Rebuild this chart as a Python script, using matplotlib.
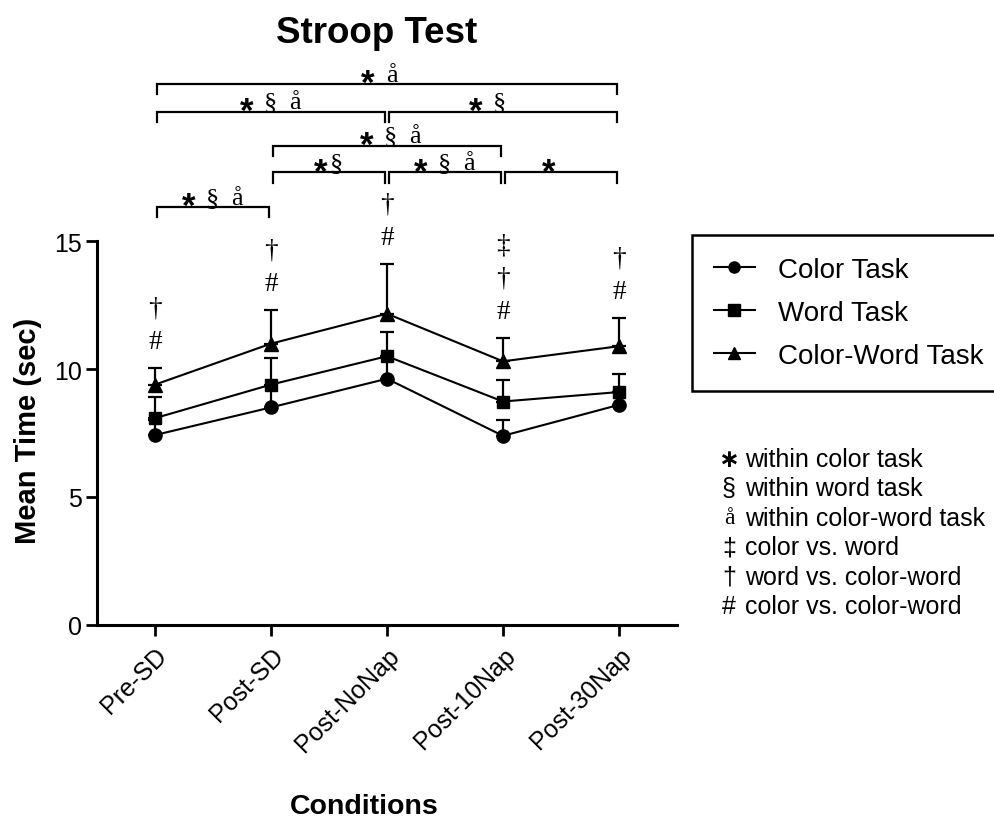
import matplotlib
matplotlib.use('Agg')
import matplotlib.pyplot as plt
import numpy as np

plt.rcParams['font.family'] = ['Liberation Sans', 'DejaVu Sans']

# ---------------- data ----------------
conditions = ['Pre-SD', 'Post-SD', 'Post-NoNap', 'Post-10Nap', 'Post-30Nap']
series_labels = ['Color Task', 'Word Task', 'Color-Word Task']
color_mean = [7.42, 8.50, 9.62, 7.39, 8.60]
color_sem = [0.60, 0.85, 0.85, 0.60, 0.50]
word_mean = [8.08, 9.39, 10.50, 8.73, 9.10]
word_sem = [0.82, 1.04, 0.94, 0.83, 0.72]
cw_mean = [9.39, 10.99, 12.16, 10.30, 10.89]
cw_sem = [0.66, 1.31, 1.96, 0.92, 1.10]

# between-task significance marks per condition (bottom to top)
point_marks = [['#', '†'], ['#', '†'], ['#', '†'], ['#', '†', '‡'], ['#', '†']]

# within-task comparison brackets: (from condition, to condition, marks)
bracket_pairs = [(0, 4, '* å'), (0, 2, '* § å'), (2, 4, '* §'), (1, 3, '* § å'),
                 (1, 2, '*§'), (2, 3, '* § å'), (3, 4, '*'), (0, 1, '* § å')]
# layout of the brackets (level in data units, label shift in pixels)
bracket_levels = [21.13, 20.05, 20.05, 18.72, 17.68, 17.68, 17.68, 16.32]
bracket_text_shift = [-7, 0, -15, 4, 0, 0, -12, 0]

footnote_symbols = ['∗', '§', 'å', '‡', '†', '#']
footnote_texts = ['within color task', 'within word task', 'within color-word task',
                  'color vs. word', 'word vs. color-word', 'color vs. color-word']

# ---------------- figure ----------------
W, H = 995, 820
fig = plt.figure(figsize=(W / 100, H / 100), dpi=100)
ax = fig.add_axes([97 / W, 1 - 626 / H, 580 / W, 384 / H])

x = np.arange(len(conditions))
means = [color_mean, word_mean, cw_mean]
sems = [color_sem, word_sem, cw_sem]
markers = ['o', 's', '^']
msizes = [9.5, 9, 10]
handles = []
for m, s, mk, ms in zip(means, sems, markers, msizes):
    s = np.array(s)
    c = ax.errorbar(x, m, yerr=[np.zeros_like(s), s], fmt='-' + mk, color='black',
                    lw=1.5, ms=ms, capsize=4.8, capthick=1.6, elinewidth=1.6,
                    clip_on=False)
    handles.append(c[0])

ax.set_xlim(-0.5, 4.5)
ax.set_ylim(0, 15)
ax.set_yticks([0, 5, 10, 15])
ax.set_xticks(x)
ax.set_xticklabels(conditions, rotation=45, ha='right', va='top',
                   rotation_mode='anchor')
for sp in ['top', 'right']:
    ax.spines[sp].set_visible(False)
for sp in ['left', 'bottom']:
    ax.spines[sp].set_linewidth(2.2)
ax.tick_params(axis='y', length=8, width=2, labelsize=18, pad=3)
ax.tick_params(axis='x', length=8, width=2, labelsize=18, pad=5)

# point marks above the color-word error bars
serif = 'Liberation Serif'
for i, marks in enumerate(point_marks):
    top = cw_mean[i] + cw_sem[i]
    for k, mk in enumerate(marks):
        ax.annotate(mk, xy=(x[i], top), xytext=(0, 19 + 24 * k),
                    textcoords='offset points', ha='center', va='center',
                    fontsize=19.5, family=serif, annotation_clip=False)


def place_symbols(xc, y, label, fontsize, base_dy, shift_px):
    entries = []
    pos = 0.0
    for ch in label:
        if ch == ' ':
            pos += 8
        else:
            entries.append((ch, pos))
            pos += 16
    last = entries[-1][1]
    for ch, p in entries:
        off = (p - last / 2 + shift_px) * 0.72
        if ch == '*':
            ax.annotate(ch, xy=(xc, y), xytext=(off, base_dy - 9),
                        textcoords='offset points', ha='center', va='baseline',
                        fontsize=25, fontweight='bold',
                        family='Liberation Sans', annotation_clip=False)
        else:
            ax.annotate(ch, xy=(xc, y), xytext=(off, base_dy),
                        textcoords='offset points', ha='center', va='baseline',
                        fontsize=fontsize, family=serif, annotation_clip=False)


drop = 0.4
inset = 0.02
for (a, b, lab), lev, sh in zip(bracket_pairs, bracket_levels, bracket_text_shift):
    xa, xb = x[a] + inset, x[b] - inset
    ax.plot([xa, xa, xb, xb], [lev - drop, lev, lev, lev - drop], color='black',
            lw=1.6, clip_on=False, solid_joinstyle='miter')
    place_symbols((x[a] + x[b]) / 2, lev, lab, 19, 2.5, sh)

# legend
leg = fig.legend(handles, series_labels, loc='upper left',
                 bbox_to_anchor=(692 / W, 1 - 236 / H), bbox_transform=fig.transFigure,
                 borderaxespad=0, frameon=True, fancybox=False, edgecolor='black',
                 fontsize=20, handlelength=1.5, handletextpad=0.8,
                 borderpad=0.78, labelspacing=0.62, framealpha=1)
leg.get_frame().set_linewidth(1.8)
for h in leg.legend_handles:
    h.set_markersize(8)

# footnotes
for i, (sym, txt) in enumerate(zip(footnote_symbols, footnote_texts)):
    yy = 1 - (460 + 29.4 * i) / H
    if sym == '∗':
        fig.text(729 / W, yy, sym, ha='center', va='center', fontsize=18,
                 fontweight='bold', family='DejaVu Sans')
    elif sym == 'å':
        fig.text(729 / W, yy, sym, ha='center', va='center', fontsize=17,
                 family=serif)
    else:
        fig.text(729 / W, yy, sym, ha='center', va='center', fontsize=18)
    fig.text(745 / W, yy, txt, ha='left', va='center', fontsize=18)

# titles
fig.text(377 / W, 1 - 43 / H, 'Stroop Test', ha='center', va='baseline',
         fontsize=26.5, fontweight='bold')
fig.text(28 / W, 1 - 431 / H, 'Mean Time (sec)', rotation=90, ha='center',
         va='center', fontsize=21, fontweight='bold')
fig.text(364 / W, 1 - 814 / H, 'Conditions', ha='center', va='baseline',
         fontsize=20.5, fontweight='bold')

fig.savefig('out.png', dpi=100)
